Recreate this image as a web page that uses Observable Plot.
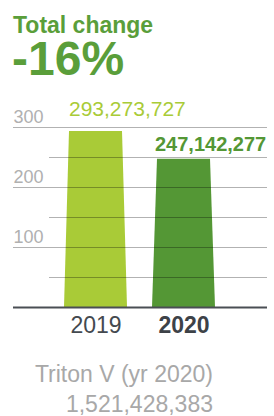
<!DOCTYPE html>
<html><head><meta charset="utf-8">
<script src="https://cdn.jsdelivr.net/npm/d3@7"></script>
<script src="https://cdn.jsdelivr.net/npm/@observablehq/plot@0.6"></script>
<style>
body{margin:0;width:274px;height:416px;position:relative;overflow:hidden;background:#fff;font-family:"Liberation Sans",Arial,sans-serif;}
.t{position:absolute;white-space:nowrap;}
#chart{position:absolute;left:0;top:90px;}
</style></head>
<body>
<div class="t" id="title" style="left:13px;top:15px;font-size:23px;line-height:20px;font-weight:bold;color:#5a9e3a;"></div>
<div class="t" id="change" style="left:12px;top:39px;font-size:48px;line-height:40px;font-weight:bold;color:#5a9e3a;"></div>
<div id="chart"></div>
<div class="t" id="foot1" style="right:61px;top:364px;font-size:23px;line-height:20px;color:#a8a8a8;text-align:right;"></div>
<div class="t" id="foot2" style="right:61px;top:394px;font-size:23px;line-height:20px;color:#a8a8a8;text-align:right;"></div>
<script>
const years = ["2019", "2020"];
const values = [293273727, 247142277];
const barColors = ["#a9cb37", "#549735"];
const majorTicks = [100, 200, 300];
const minorTicks = [50, 150, 250];
const titleText = "Total change";
const changeText = "-16%";
const footerLabel = "Triton V (yr 2020)";
const footerValue = 1521428383;

document.getElementById("title").textContent = titleText;
document.getElementById("change").textContent = changeText;
document.getElementById("foot1").textContent = footerLabel;
document.getElementById("foot2").textContent = d3.format(",")(footerValue);

const data = years.map((y, i) => ({year: y, value: values[i] / 1e6, raw: values[i]}));
const fmt = d3.format(",");

const plot = Plot.plot({
  width: 274,
  height: 252,
  marginTop: 37,
  marginBottom: 35,
  marginLeft: 13,
  marginRight: 7,
  x: {domain: years, paddingInner: 0.28, paddingOuter: 0.567, axis: null},
  y: {domain: [0, 300], axis: null},
  color: {domain: years, range: barColors},
  style: {fontFamily: '"Liberation Sans", Arial, sans-serif', background: "transparent"},
  marks: [
    Plot.barY(data, {x: "year", y: "value", fill: "year"}),
    Plot.ruleY(majorTicks, {stroke: "#000", strokeOpacity: 0.3, strokeWidth: 1}),
    Plot.ruleY(minorTicks, {stroke: "#000", strokeOpacity: 0.3, strokeWidth: 1, insetLeft: 36}),
    Plot.ruleY([0], {stroke: "#4a4e54", strokeWidth: 2}),
    Plot.text(majorTicks, {y: d => d, text: d => String(d), frameAnchor: "left", textAnchor: "start", dy: -10, fill: "#b0b0b0", fontSize: 18}),
    Plot.text(data.filter(d => d.year === "2019"), {x: "year", y: "value", text: d => fmt(d.raw), textAnchor: "start", dx: -27, dy: -22, fill: barColors[0], fontSize: 21}),
    Plot.text(data.filter(d => d.year === "2020"), {x: "year", y: "value", text: d => fmt(d.raw), textAnchor: "start", dx: -29, dy: -15, fill: barColors[1], fontSize: 20, fontWeight: "bold"}),
    Plot.text(data.filter(d => d.year === "2019"), {x: "year", text: "year", frameAnchor: "bottom", dy: 25, fill: "#44494f", fontSize: 23}),
    Plot.text(data.filter(d => d.year === "2020"), {x: "year", text: "year", frameAnchor: "bottom", dy: 25, fill: "#3d4248", fontSize: 23, fontWeight: "bold"})
  ]
});

// Turn bar rects into trapezoids (narrower at top)
plot.querySelectorAll('g[aria-label="bar"] rect').forEach(r => {
  const x = +r.getAttribute("x"), y = +r.getAttribute("y");
  const w = +r.getAttribute("width"), h = +r.getAttribute("height");
  const inset = 5;
  const p = document.createElementNS("http://www.w3.org/2000/svg", "path");
  p.setAttribute("d", `M${x},${y + h}L${x + inset},${y}L${x + w - inset},${y}L${x + w},${y + h}Z`);
  for (const a of r.attributes) if (!["x", "y", "width", "height"].includes(a.name)) p.setAttribute(a.name, a.value);
  r.replaceWith(p);
});

document.getElementById("chart").appendChild(plot);
</script>
</body></html>
